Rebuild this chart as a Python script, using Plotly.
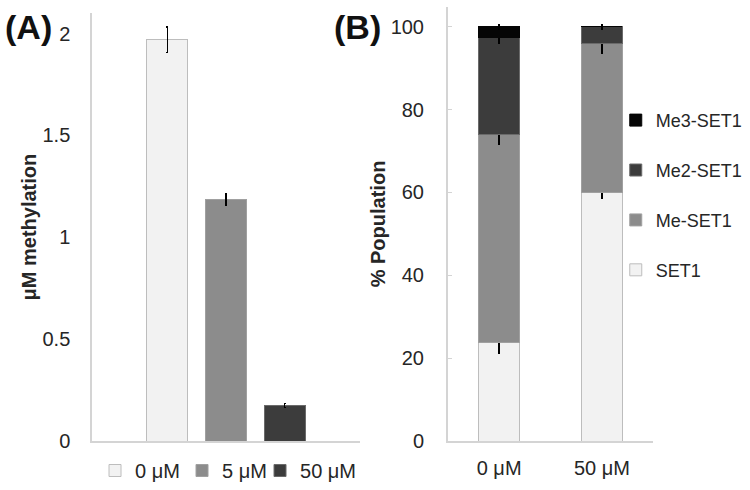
import plotly.graph_objects as go

# ---------------- data ----------------
# Panel A
conc_a = ["0 μM", "5 μM", "50 μM"]
methylation = [1.97, 1.187, 0.175]
methylation_err = [0.062, 0.029, 0.01]

# Panel B
conc_b = ["0 μM", "50 μM"]
species = ["SET1", "Me-SET1", "Me2-SET1", "Me3-SET1"]
pop_set1 = [23.8, 60.0]
pop_me1 = [50.3, 35.9]
pop_me2 = [23.25, 4.1]
pop_me3 = [2.65, 0.0]
err_set1 = [2.6, 1.4]
err_me1 = [2.4, 2.3]
err_me2 = [1.4, 0.6]
err_me3 = [0.6, 0.0]

yticks_a = [0, 0.5, 1, 1.5, 2]
yticks_b = [0, 20, 40, 60, 80, 100]

# ---------------- style ----------------
FONT = "Liberation Sans, Arial, sans-serif"
TXT = "#262626"
AX = "#d4d4d4"
fills_a = ["#f2f2f2", "#8c8c8c", "#3c3c3c"]
lines_a = ["#bdbdbd", "#a0a0a0", "#6a6a6a"]
fills_b = ["#f2f2f2", "#8c8c8c", "#3c3c3c", "#050505"]
lines_b = ["#bdbdbd", "#a0a0a0", "#6a6a6a", "#050505"]
legend_a_ids = ["legend", "legend3", "legend4"]
legend_a_x = [0.1267, 0.2427, 0.3467]

fig = go.Figure()

for i, c in enumerate(conc_a):
    fig.add_trace(go.Bar(
        x=[c], y=[methylation[i]], name=c, width=0.7,
        marker=dict(color=fills_a[i], line=dict(color=lines_a[i], width=1)),
        error_y=dict(type="data", array=[methylation_err[i]], color="black",
                     thickness=1.4, width=1.2),
        xaxis="x", yaxis="y", legend=legend_a_ids[i],
    ))

vals_b = [pop_set1, pop_me1, pop_me2, pop_me3]
errs_b = [err_set1, err_me1, err_me2, err_me3]
n_sp = len(species)
for i, s in enumerate(species):
    fig.add_trace(go.Bar(
        x=conc_b, y=vals_b[i], name=s, width=0.4,
        marker=dict(color=fills_b[i], line=dict(color=lines_b[i], width=1)),
        error_y=dict(type="data", array=errs_b[i], color="black",
                     thickness=1.4, width=1.2),
        xaxis="x2", yaxis="y2", legend="legend2", legendgroup=s,
        legendrank=n_sp - i,
    ))

legend_a_style = dict(orientation="h", y=0.037, xanchor="left", yanchor="middle",
                      font=dict(size=20), bgcolor="rgba(0,0,0,0)")

fig.update_layout(
    width=750, height=490,
    margin=dict(l=0, r=0, t=0, b=0),
    paper_bgcolor="white", plot_bgcolor="white",
    font=dict(family=FONT, size=20, color=TXT),
    barmode="stack",
    showlegend=True,
    xaxis=dict(domain=[0.1227, 0.48], type="category", categoryarray=conc_a,
               range=[-1.28, 3.28], showticklabels=False, showline=True,
               linecolor=AX, linewidth=1.5, ticks="", showgrid=False, zeroline=False,
               anchor="y", automargin=False),
    yaxis=dict(domain=[0.098, 0.973], range=[0, 2.1], tickvals=yticks_a,
               ticktext=[str(v) for v in yticks_a],
               showline=True, linecolor=AX, linewidth=1.5, ticks="",
               showgrid=False, zeroline=False, ticklabelstandoff=16,
               title=dict(text="<b>μM methylation</b>", font=dict(size=20), standoff=0),
               anchor="x", automargin=False),
    xaxis2=dict(domain=[0.597, 0.871], type="category", categoryarray=conc_b,
                range=[-0.5, 1.5], showline=True, linecolor=AX, linewidth=1.5,
                ticks="", showgrid=False, zeroline=False, ticklabelstandoff=8,
                anchor="y2", automargin=False),
    yaxis2=dict(domain=[0.098, 0.986], range=[0, 104.8], tickvals=yticks_b,
                showline=True, linecolor=AX, linewidth=1.5, ticks="inside",
                ticklen=4, tickcolor=AX, showgrid=False, zeroline=False,
                ticklabelstandoff=18,
                title=dict(text="<b>% Population</b>", font=dict(size=20), standoff=0),
                anchor="x2", automargin=False),
    legend=dict(x=legend_a_x[0], **legend_a_style),
    legend3=dict(x=legend_a_x[1], **legend_a_style),
    legend4=dict(x=legend_a_x[2], **legend_a_style),
    legend2=dict(orientation="v", x=0.821, y=0.792, xanchor="left", yanchor="top",
                 font=dict(size=18), bgcolor="rgba(0,0,0,0)",
                 traceorder="grouped", tracegroupgap=23.5),
    annotations=[
        dict(text="<b>(A)</b>", x=0.004, y=0.945, xref="paper", yref="paper",
             xanchor="left", yanchor="middle", showarrow=False,
             font=dict(size=34, color="#111111")),
        dict(text="<b>(B)</b>", x=0.443, y=0.945, xref="paper", yref="paper",
             xanchor="left", yanchor="middle", showarrow=False,
             font=dict(size=34, color="#111111")),
    ],
)

fig.write_html("out.html", config={"displayModeBar": False},
               post_script="document.body.style.margin='0px';")
